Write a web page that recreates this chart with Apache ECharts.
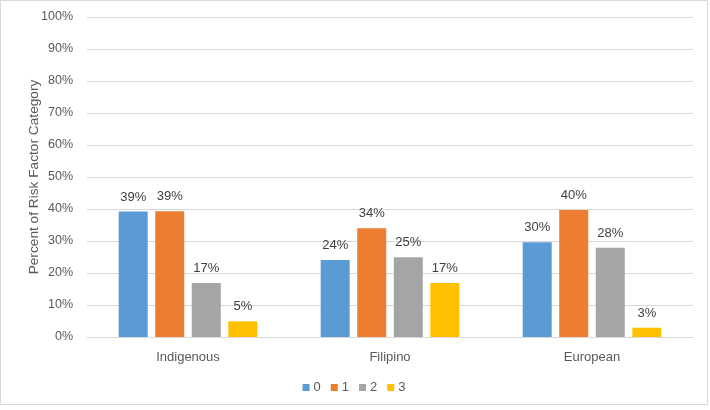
<!DOCTYPE html>
<html>
<head>
<meta charset="utf-8">
<script src="https://cdn.jsdelivr.net/npm/echarts@6/dist/echarts.min.js"></script>
<style>
  html, body { margin: 0; padding: 0; background: #fff; }
  #chart {
    width: 708px;
    height: 405px;
    border: 1px solid #d9d9d9;
    box-sizing: border-box;
  }
</style>
</head>
<body>
<div id="chart"></div>
<script>
// Groups along the x axis
const groups = ['Indigenous', 'Filipino', 'European']
// Risk factor count categories (legend)
const riskLevels = ['0', '1', '2', '3']
// Percent values per risk level, one entry per group
const level0 = [39.2, 24.1, 29.6]
const level1 = [39.3, 34.0, 39.7]
const level2 = [16.9, 24.9, 27.9]
const level3 = [4.9, 16.9, 2.9]
const yTicks = [0, 10, 20, 30, 40, 50, 60, 70, 80, 90, 100]

const colors = ['#5b9bd5', '#ed7d31', '#a5a5a5', '#ffc000']
const seriesValues = [level0, level1, level2, level3]
const font = 'Liberation Sans, Arial, sans-serif'

var myChart = echarts.init(document.getElementById('chart'))

myChart.setOption({
  animation: false,
  textStyle: { fontFamily: font },
  color: colors,
  grid: {
    left: 86,
    right: 14,
    top: 16,
    bottom: 67
  },
  legend: {
    bottom: 5,
    left: 'center',
    itemWidth: 7,
    itemHeight: 7,
    itemGap: 10,
    icon: 'rect',
    textStyle: { color: '#595959', fontSize: 13, padding: [0, 0, 0, -1] },
    data: riskLevels
  },
  xAxis: {
    type: 'category',
    data: groups,
    axisLine: { lineStyle: { color: '#d9d9d9' } },
    axisTick: { show: false },
    axisLabel: { color: '#595959', fontSize: 13, margin: 14 }
  },
  yAxis: {
    type: 'value',
    min: yTicks[0],
    max: yTicks[yTicks.length - 1],
    interval: 10,
    name: 'Percent of Risk Factor Category',
    nameLocation: 'middle',
    nameGap: 46,
    nameMoveOverlap: false,
    nameTextStyle: { color: '#595959', fontSize: 13.7 },
    axisLine: { show: false },
    axisTick: { show: false },
    axisLabel: { color: '#595959', fontSize: 12.5, margin: 14, formatter: '{value}%' },
    splitLine: { lineStyle: { color: '#d9d9d9' } }
  },
  series: riskLevels.map((name, i) => ({
    name: name,
    type: 'bar',
    data: seriesValues[i],
    barWidth: 29,
    barGap: '26%',
    itemStyle: { color: colors[i] },
    label: {
      show: true,
      position: 'top',
      distance: 8,
      color: '#404040',
      fontSize: 13,
      formatter: p => Math.round(p.value) + '%'
    }
  }))
})
</script>
</body>
</html>
